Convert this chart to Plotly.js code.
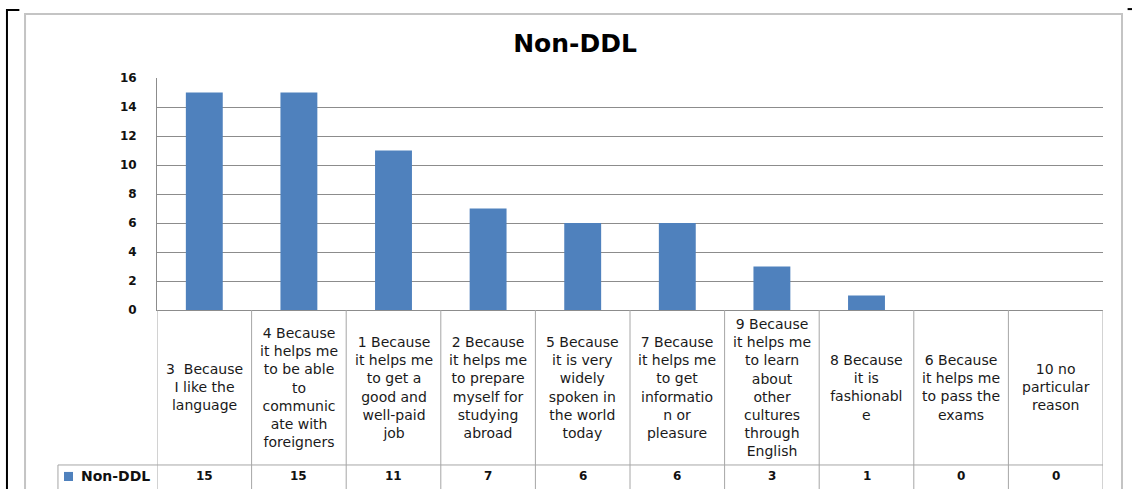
<!DOCTYPE html>
<html>
<head>
<meta charset="utf-8">
<script src="https://cdn.plot.ly/plotly-3.0.1.min.js"></script>
<style>html,body{margin:0;padding:0;background:#fff;}</style>
</head>
<body>
<div id="chart" style="width:1132px;height:489px;"></div>
<script>
const seriesName = "Non-DDL";
const categories = [
  "3  Because<br>I like the<br>language",
  "4 Because<br>it helps me<br>to be able<br>to<br>communic<br>ate with<br>foreigners",
  "1 Because<br>it helps me<br>to get a<br>good and<br>well-paid<br>job",
  "2 Because<br>it helps me<br>to prepare<br>myself for<br>studying<br>abroad",
  "5 Because<br>it is very<br>widely<br>spoken in<br>the world<br>today",
  "7 Because<br>it helps me<br>to get<br>informatio<br>n or<br>pleasure",
  "9 Because<br>it helps me<br>to learn<br>about<br>other<br>cultures<br>through<br>English",
  "8 Because<br>it is<br>fashionabl<br>e",
  "6 Because<br>it helps me<br>to pass the<br>exams",
  "10 no<br>particular<br>reason"
];
const values = [15, 15, 11, 7, 6, 6, 3, 1, 0, 0];
const yTicks = [0, 2, 4, 6, 8, 10, 12, 14, 16];

const barColor = "#4F81BD";
const lineColor = "#a6a6a6";
const font = "DejaVu Sans, Verdana, sans-serif";

const labelY = -0.332;
const valueY = -0.716;
const rowTop = -0.668;
const tableBottom = -0.85;
const cellLeft = -0.1047;

const shapes = [];
// vertical column separators of data table
for (let i = 0; i <= categories.length; i++) {
  shapes.push({type: "line", xref: "x", yref: "paper", x0: i - 0.5, x1: i - 0.5, y0: 0, y1: tableBottom,
    line: {color: lineColor, width: 1}});
}
// horizontal line between label row and value row
shapes.push({type: "line", xref: "paper", yref: "paper", x0: cellLeft, x1: 1, y0: rowTop, y1: rowTop,
  line: {color: lineColor, width: 1}});
// left border of legend cell
shapes.push({type: "line", xref: "paper", yref: "paper", x0: cellLeft, x1: cellLeft, y0: rowTop, y1: tableBottom,
  line: {color: lineColor, width: 1}});
// legend key
shapes.push({type: "rect", xref: "paper", yref: "paper", x0: -0.0983, x1: -0.0888, y0: -0.737, y1: -0.698,
  line: {width: 0}, fillcolor: barColor});
// chart border
shapes.push({type: "rect", xref: "paper", yref: "paper", x0: -0.1395, x1: 1.0201, y0: -0.9, y1: 1.2759,
  line: {color: "#c4c4c4", width: 2}});
// black bracket
shapes.push({type: "path", xref: "paper", yref: "paper",
  path: "M -0.1455,1.293 L -0.1586,1.293 L -0.1586,-0.9",
  line: {color: "#000", width: 2}});
shapes.push({type: "line", xref: "paper", yref: "paper", x0: 1.026, x1: 1.032, y0: 1.297, y1: 1.297,
  line: {color: "#000", width: 2}});

const annotations = [];
categories.forEach((c, i) => {
  annotations.push({xref: "x", yref: "paper", x: c, y: labelY, text: c, showarrow: false,
    xanchor: "center", yanchor: "middle", align: "center",
    font: {family: font, size: 14, color: "#1a1a1a"}});
  annotations.push({xref: "x", yref: "paper", x: c, y: valueY, text: String(values[i]), showarrow: false,
    xanchor: "center", yanchor: "middle",
    font: {family: font, size: 12, color: "#111", weight: "bold"}});
});
annotations.push({xref: "paper", yref: "paper", x: -0.0053, y: valueY, text: seriesName, showarrow: false,
  xanchor: "right", yanchor: "middle",
  font: {family: font, size: 14, color: "#111", weight: "bold"}});

const trace = {
  type: "bar",
  x: categories,
  y: values,
  name: seriesName,
  marker: {color: barColor, line: {width: 0}},
  hoverinfo: "skip"
};

const layout = {
  width: 1132,
  height: 489,
  margin: {l: 157, r: 29, t: 78, b: 179},
  paper_bgcolor: "#fff",
  plot_bgcolor: "#fff",
  showlegend: false,
  bargap: 0.61,
  title: {text: "Non-DDL", x: 0.508, xref: "container", xanchor: "center",
    y: 0.912, yref: "container", yanchor: "middle",
    font: {family: font, size: 25, color: "#000", weight: "bold"}},
  xaxis: {type: "category", range: [-0.5, 9.5], showticklabels: false, showgrid: false,
    zeroline: false, showline: true, linecolor: "#8c8c8c", linewidth: 1, ticks: "", fixedrange: true},
  yaxis: {range: [0, 16], tickvals: yTicks, ticktext: yTicks.map(String), showgrid: true,
    gridcolor: "#8c8c8c", gridwidth: 1, zeroline: false, showline: true, linecolor: "#8c8c8c",
    linewidth: 1, ticks: "", ticklabelstandoff: 17,
    tickfont: {family: font, size: 12, color: "#111", weight: "bold"}, fixedrange: true},
  shapes: shapes,
  annotations: annotations
};

Plotly.newPlot("chart", [trace], layout, {staticPlot: true, displayModeBar: false});
</script>
</body>
</html>
